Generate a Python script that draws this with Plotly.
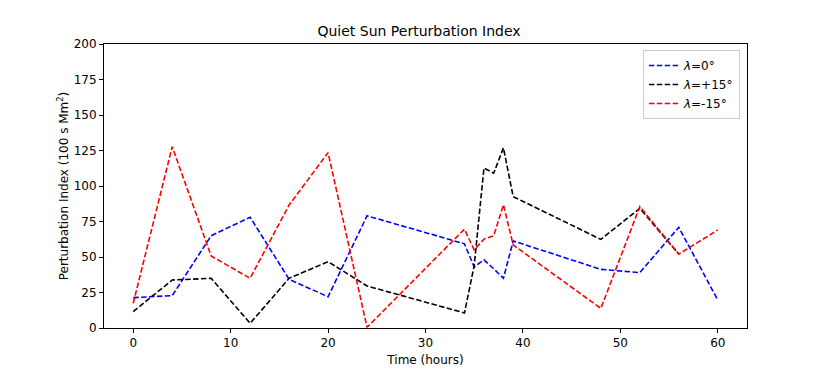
import plotly.graph_objects as go

time_h = [0, 4, 8, 12, 16, 20, 24, 34, 35, 36, 37, 38, 39, 48, 52, 56, 60]
lat_0 = [21.4, 22.8, 65, 78, 34.3, 22, 79, 59.3, 43, 48, 41.7, 35, 61.3, 41.3, 39, 70.9, 19.7]
lat_p15 = [11.5, 33.8, 35, 3.3, 35, 46.7, 29.6, 10.6, 44, 112.7, 109, 126.8, 92.5, 62.4, 84.3, 52, None]
lat_m15 = [17.4, 127.7, 50.7, 35, 86.6, 123.5, 0.5, 69.6, 55, 62.6, 64.9, 86.8, 58.5, 13.8, 85.5, 52, 69]

series = [
    ("<i>λ</i>=0°", lat_0, "#0000ff"),
    ("<i>λ</i>=+15°", lat_p15, "#000000"),
    ("<i>λ</i>=-15°", lat_m15, "#ff0000"),
]

fig = go.Figure()
for name, vals, col in series:
    fig.add_trace(go.Scatter(
        x=time_h, y=vals, mode="lines", name=name,
        line=dict(color=col, width=1.6, dash="5.5px,2.4px"),
        connectgaps=False,
    ))

axis_common = dict(
    showline=True, linecolor="black", linewidth=1, mirror=True,
    ticks="outside", ticklen=4, tickwidth=1, tickcolor="black",
    showgrid=False, zeroline=False, automargin=False,
    tickfont=dict(family="DejaVu Sans", size=12, color="black"),
)

W, H = 822, 361
fig.update_layout(
    width=W, height=H,
    margin=dict(l=96, r=83, t=36, b=41, autoexpand=False),
    paper_bgcolor="white", plot_bgcolor="white",
    font=dict(family="DejaVu Sans", size=12, color="black"),
    title=dict(text="Quiet Sun Perturbation Index", x=0.5, xanchor="center",
               y=1 - 23 / H, yanchor="middle", automargin=False,
               font=dict(size=14, family="DejaVu Sans", color="black")),
    xaxis=dict(range=[-3, 63], tickvals=[0, 10, 20, 30, 40, 50, 60],
               title=dict(text="Time (hours)", standoff=6,
                          font=dict(size=12, family="DejaVu Sans")),
               **axis_common),
    yaxis=dict(range=[0, 200], tickvals=[0, 25, 50, 75, 100, 125, 150, 175, 200],
               title=dict(text="Perturbation Index (100 s Mm<sup>2</sup>)", standoff=2,
                          font=dict(size=12, family="DejaVu Sans")),
               **axis_common),
    legend=dict(x=0.989, y=0.979, xanchor="right", yanchor="top",
                bordercolor="#cccccc", borderwidth=1, bgcolor="rgba(255,255,255,0.8)",
                font=dict(size=12, family="DejaVu Sans"), tracegroupgap=0,
                itemwidth=30),
    showlegend=True,
)

fig.write_html("out.html")
